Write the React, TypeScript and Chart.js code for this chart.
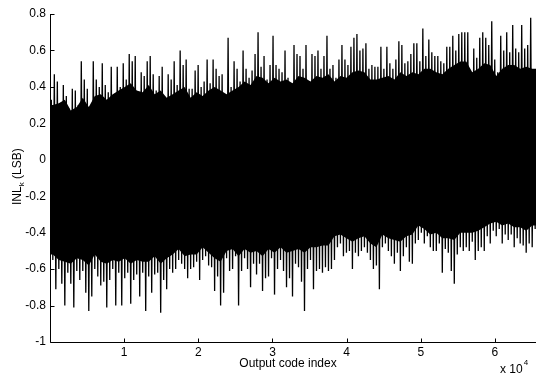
import React, { useEffect, useRef } from 'react';
import { Chart, registerables } from 'chart.js';

Chart.register(...registerables);

const FONT = '"Liberation Sans", Arial, Helvetica, sans-serif';

// Output code index of the first sampled column and spacing between sampled columns
const CODE_START = 180;
const CODE_STEP = 404;

// Upper peaks of INL_k (LSB) per sampled column
const UPPER = [
  0.33, 0.47, 0.43, 0.28, 0.41, 0.35, 0.28, 0.39, 0.38, 0.30,
  0.54, 0.44, 0.39, 0.28, 0.54, 0.44, 0.40, 0.53, 0.41, 0.37,
  0.51, 0.36, 0.51, 0.40, 0.53, 0.44, 0.58, 0.54, 0.57, 0.36,
  0.48, 0.46, 0.54, 0.57, 0.47, 0.38, 0.46, 0.51, 0.33, 0.47,
  0.44, 0.54, 0.41, 0.60, 0.52, 0.55, 0.39, 0.39, 0.49, 0.52,
  0.40, 0.43, 0.55, 0.42, 0.55, 0.50, 0.46, 0.47, 0.35, 0.67,
  0.40, 0.54, 0.50, 0.43, 0.60, 0.50, 0.45, 0.49, 0.58, 0.70,
  0.51, 0.57, 0.44, 0.52, 0.68, 0.52, 0.50, 0.48, 0.60, 0.45,
  0.40, 0.63, 0.58, 0.57, 0.50, 0.63, 0.43, 0.58, 0.57, 0.60,
  0.50, 0.57, 0.68, 0.50, 0.52, 0.45, 0.55, 0.63, 0.55, 0.52,
  0.62, 0.67, 0.69, 0.60, 0.61, 0.64, 0.50, 0.52, 0.51, 0.51,
  0.62, 0.50, 0.62, 0.53, 0.50, 0.55, 0.65, 0.63, 0.53, 0.54,
  0.58, 0.64, 0.64, 0.54, 0.72, 0.57, 0.66, 0.59, 0.57, 0.57,
  0.54, 0.53, 0.62, 0.62, 0.68, 0.60, 0.69, 0.70, 0.70, 0.70,
  0.46, 0.61, 0.56, 0.67, 0.70, 0.67, 0.63, 0.76, 0.55, 0.48,
  0.68, 0.60, 0.70, 0.59, 0.74, 0.61, 0.59, 0.74, 0.61, 0.63,
  0.78, 0.47,
];

// Lower peaks of INL_k (LSB) per sampled column
const LOWER = [
  -0.55, -0.71, -0.60, -0.68, -0.80, -0.62, -0.68, -0.81, -0.61, -0.66,
  -0.61, -0.73, -0.83, -0.75, -0.60, -0.64, -0.69, -0.67, -0.81, -0.66,
  -0.60, -0.80, -0.62, -0.80, -0.65, -0.62, -0.79, -0.66, -0.63, -0.75,
  -0.62, -0.83, -0.64, -0.73, -0.63, -0.62, -0.84, -0.66, -0.71, -0.60,
  -0.62, -0.60, -0.55, -0.57, -0.60, -0.65, -0.60, -0.59, -0.56, -0.66,
  -0.55, -0.53, -0.58, -0.59, -0.72, -0.64, -0.80, -0.73, -0.54, -0.61,
  -0.60, -0.53, -0.80, -0.61, -0.54, -0.60, -0.70, -0.57, -0.63, -0.57,
  -0.72, -0.65, -0.64, -0.54, -0.74, -0.60, -0.55, -0.61, -0.70, -0.65,
  -0.75, -0.57, -0.59, -0.67, -0.83, -0.60, -0.55, -0.71, -0.61, -0.60,
  -0.62, -0.59, -0.61, -0.60, -0.55, -0.48, -0.46, -0.53, -0.51, -0.50,
  -0.60, -0.51, -0.53, -0.50, -0.48, -0.51, -0.55, -0.60, -0.58, -0.71,
  -0.48, -0.46, -0.50, -0.53, -0.57, -0.51, -0.61, -0.53, -0.48, -0.56,
  -0.57, -0.46, -0.44, -0.40, -0.46, -0.42, -0.48, -0.50, -0.50, -0.46,
  -0.62, -0.49, -0.51, -0.61, -0.68, -0.52, -0.48, -0.50, -0.48, -0.50,
  -0.45, -0.55, -0.50, -0.48, -0.50, -0.42, -0.46, -0.39, -0.42, -0.38,
  -0.46, -0.41, -0.44, -0.41, -0.48, -0.43, -0.46, -0.47, -0.51, -0.46,
  -0.48, -0.38,
];

// Edges of the dense (solid black) region, one value per pair of sampled columns
const SOLID_TOP = [
  0.30, 0.31, 0.33, 0.27, 0.29, 0.34, 0.29, 0.35, 0.36, 0.33,
  0.36, 0.38, 0.40, 0.42, 0.38, 0.37, 0.41, 0.36, 0.38, 0.34,
  0.36, 0.38, 0.40, 0.34, 0.37, 0.35, 0.38, 0.40, 0.38, 0.36,
  0.38, 0.40, 0.43, 0.41, 0.46, 0.45, 0.42, 0.45, 0.43, 0.44,
  0.42, 0.46, 0.45, 0.43, 0.46, 0.45, 0.47, 0.43, 0.46, 0.45,
  0.48, 0.49, 0.48, 0.44, 0.44, 0.45, 0.46, 0.44, 0.48, 0.46,
  0.48, 0.47, 0.50, 0.50, 0.48, 0.47, 0.50, 0.52, 0.54, 0.54,
  0.48, 0.50, 0.53, 0.52, 0.46, 0.50, 0.52, 0.52, 0.50, 0.51,
  0.50,
];
const SOLID_BOTTOM = [
  -0.52, -0.55, -0.56, -0.57, -0.54, -0.55, -0.58, -0.52, -0.56, -0.57,
  -0.55, -0.56, -0.54, -0.57, -0.55, -0.56, -0.56, -0.53, -0.57, -0.54,
  -0.52, -0.49, -0.53, -0.52, -0.52, -0.48, -0.51, -0.54, -0.56, -0.50,
  -0.49, -0.53, -0.49, -0.51, -0.50, -0.53, -0.49, -0.51, -0.48, -0.51,
  -0.50, -0.49, -0.51, -0.48, -0.48, -0.47, -0.47, -0.42, -0.41, -0.43,
  -0.45, -0.43, -0.42, -0.46, -0.48, -0.41, -0.43, -0.44, -0.45, -0.42,
  -0.41, -0.36, -0.38, -0.41, -0.40, -0.43, -0.43, -0.44, -0.40, -0.40,
  -0.40, -0.39, -0.37, -0.35, -0.34, -0.36, -0.35, -0.37, -0.37, -0.39,
  -0.36,
];

const X_MIN = 0;
const X_MAX = 65536;
const Y_MIN = -1;
const Y_MAX = 0.8;
const X_TICKS = [10000, 20000, 30000, 40000, 50000, 60000];
const X_TICK_LABELS = ['1', '2', '3', '4', '5', '6'];
const Y_TICKS = [-1, -0.8, -0.6, -0.4, -0.2, 0, 0.2, 0.4, 0.6, 0.8];
const Y_TICK_LABELS = ['-1', '-0.8', '-0.6', '-0.4', '-0.2', '0', '0.2', '0.4', '0.6', '0.8'];

const X_TITLE = 'Output code index';
const Y_TITLE_MAIN = 'INL';
const Y_TITLE_SUB = 'k';
const Y_TITLE_REST = ' (LSB)';
const X_EXP_BASE = 'x 10';
const X_EXP_POWER = '4';

export default function App() {
  const ref = useRef<HTMLCanvasElement>(null);

  useEffect(() => {
    const canvas = ref.current;
    if (!canvas) return;

    const points: { x: number; y: number }[] = [];
    UPPER.forEach((u, i) => {
      points.push({ x: CODE_START + i * CODE_STEP, y: u });
      points.push({ x: CODE_START + (i + 0.5) * CODE_STEP, y: LOWER[i] });
    });

    const solidCode = (i: number) => CODE_START + (2 * i + 0.5) * CODE_STEP;
    const solidTop = [
      { x: X_MIN, y: SOLID_TOP[0] },
      ...SOLID_TOP.map((v, i) => ({ x: solidCode(i), y: v })),
      { x: X_MAX, y: SOLID_TOP[SOLID_TOP.length - 1] },
    ];
    const solidBottom = [
      { x: X_MIN, y: SOLID_BOTTOM[0] },
      ...SOLID_BOTTOM.map((v, i) => ({ x: solidCode(i), y: v })),
      { x: X_MAX, y: SOLID_BOTTOM[SOLID_BOTTOM.length - 1] },
    ];

    const axesPlugin = {
      id: 'matlabAxes',
      afterDraw(chart: any) {
        const ctx = chart.ctx as CanvasRenderingContext2D;
        const { left, right, top, bottom } = chart.chartArea;
        const xs = chart.scales.x;
        const ys = chart.scales.y;
        ctx.save();
        ctx.strokeStyle = '#000';
        ctx.lineWidth = 1;
        const ax = Math.round(left) + 0.5;
        const ay = Math.round(bottom) + 0.5;
        ctx.beginPath();
        ctx.moveTo(ax, top);
        ctx.lineTo(ax, ay);
        ctx.lineTo(right, ay);
        Y_TICKS.forEach((v) => {
          const y = Math.round(ys.getPixelForValue(v)) + 0.5;
          ctx.moveTo(ax, y);
          ctx.lineTo(ax + 4, y);
        });
        X_TICKS.forEach((v) => {
          const x = Math.round(xs.getPixelForValue(v)) + 0.5;
          ctx.moveTo(x, ay);
          ctx.lineTo(x, ay - 4);
        });
        ctx.stroke();

        ctx.fillStyle = '#000';
        ctx.textBaseline = 'alphabetic';
        ctx.font = `12px ${FONT}`;
        ctx.textAlign = 'center';
        ctx.fillText(X_TITLE, 288, 367);
        ctx.textAlign = 'left';
        ctx.fillText(X_EXP_BASE, 500, 373);
        const bw = ctx.measureText(X_EXP_BASE).width;
        ctx.font = `8px ${FONT}`;
        ctx.fillText(X_EXP_POWER, 500 + bw + 1, 365);

        ctx.translate(21, 205);
        ctx.rotate(-Math.PI / 2);
        ctx.font = `12px ${FONT}`;
        ctx.textAlign = 'left';
        ctx.fillText(Y_TITLE_MAIN, 0, 0);
        const w1 = ctx.measureText(Y_TITLE_MAIN).width;
        ctx.font = `8px ${FONT}`;
        ctx.fillText(Y_TITLE_SUB, w1, 3);
        const w2 = ctx.measureText(Y_TITLE_SUB).width;
        ctx.font = `12px ${FONT}`;
        ctx.fillText(Y_TITLE_REST, w1 + w2, 0);
        ctx.restore();
      },
    };

    const chart = new Chart(canvas, {
      type: 'line',
      data: {
        datasets: [
          {
            data: solidTop,
            borderWidth: 0,
            borderColor: '#000',
            backgroundColor: '#000',
            pointRadius: 0,
            fill: '+1',
          } as any,
          {
            data: solidBottom,
            borderWidth: 0,
            borderColor: '#000',
            pointRadius: 0,
            fill: false,
          } as any,
          {
            data: points,
            borderWidth: 1.3,
            borderColor: '#000',
            pointRadius: 0,
            fill: false,
            tension: 0,
          } as any,
        ],
      },
      options: {
        animation: false,
        responsive: true,
        maintainAspectRatio: false,
        events: [],
        layout: { padding: { top: 14, right: 0, left: 0, bottom: 0 } },
        plugins: { legend: { display: false }, tooltip: { enabled: false }, title: { display: false } },
        scales: {
          x: {
            type: 'linear',
            min: X_MIN,
            max: X_MAX,
            grid: { display: false, drawTicks: false },
            border: { display: false },
            afterBuildTicks: (s: any) => {
              s.ticks = X_TICKS.map((v) => ({ value: v }));
            },
            afterFit: (s: any) => {
              s.height = 33;
            },
            ticks: {
              autoSkip: false,
              maxRotation: 0,
              padding: 3,
              color: '#000',
              font: { family: FONT, size: 12 },
              callback: (_v: any, i: number) => X_TICK_LABELS[i],
            },
          },
          y: {
            type: 'linear',
            min: Y_MIN,
            max: Y_MAX,
            grid: { display: false, drawTicks: false },
            border: { display: false },
            afterBuildTicks: (s: any) => {
              s.ticks = Y_TICKS.map((v) => ({ value: v }));
            },
            afterFit: (s: any) => {
              s.width = 50;
            },
            ticks: {
              autoSkip: false,
              padding: 4,
              color: '#000',
              font: { family: FONT, size: 12 },
              callback: (_v: any, i: number) => Y_TICK_LABELS[i],
            },
          },
        },
      },
      plugins: [axesPlugin],
    });

    return () => chart.destroy();
  }, []);

  return (
    <div style={{ position: 'absolute', left: 0, top: 0, width: 536, height: 375, background: '#fff' }}>
      <canvas ref={ref} />
    </div>
  );
}
